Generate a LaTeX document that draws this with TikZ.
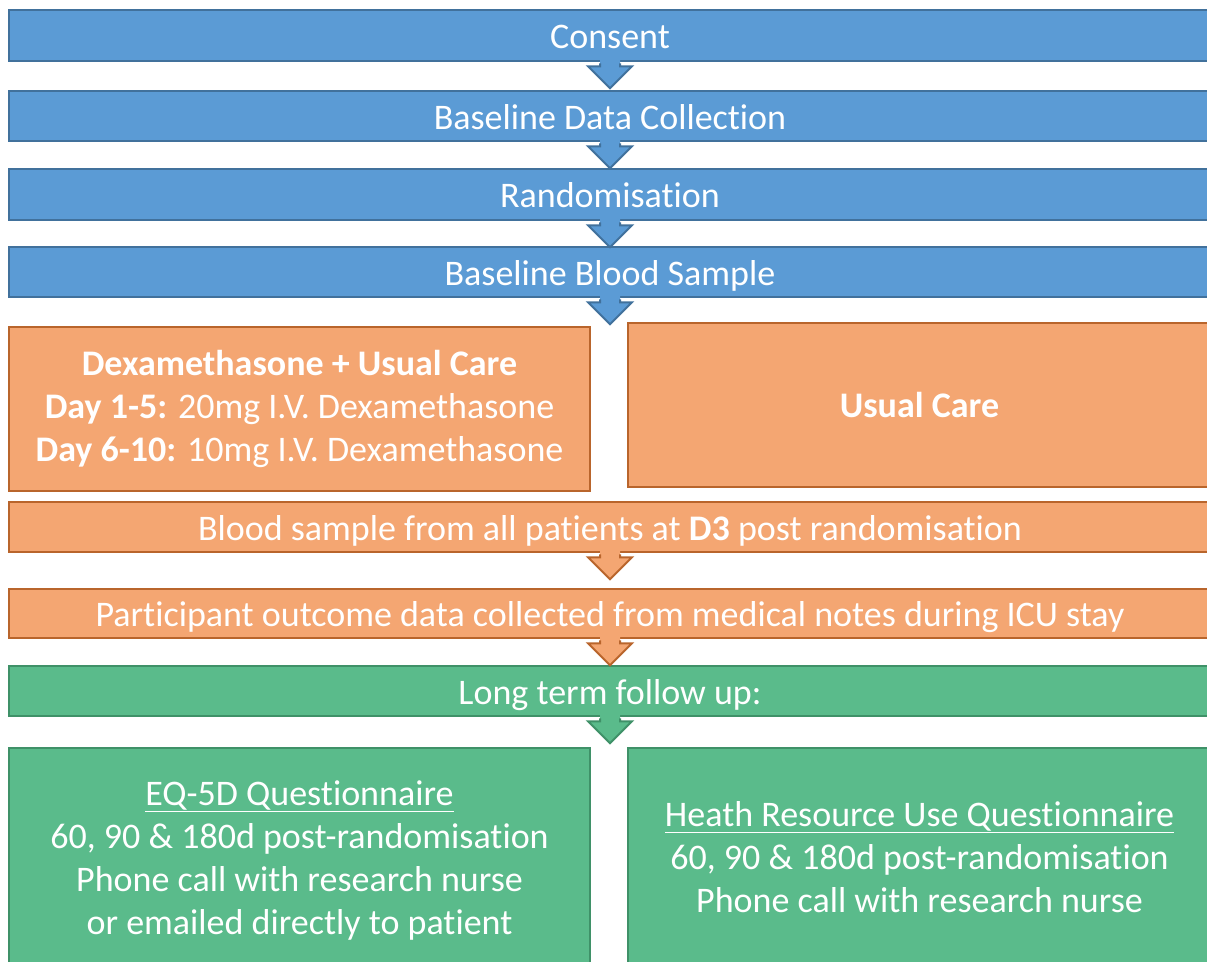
\documentclass[tikz,border=0pt]{standalone}
\usepackage{fontspec}
\setmainfont[Ligatures=NoCommon]{Carlito}
\usetikzlibrary{calc}
\definecolor{boxblue}{HTML}{5B9BD5}
\definecolor{lineblue}{HTML}{41719C}
\definecolor{boxorange}{HTML}{F4A672}
\definecolor{lineorange}{HTML}{B9652C}
\definecolor{boxgreen}{HTML}{5ABB8B}
\definecolor{linegreen}{HTML}{3F9168}
\tikzset{
    every node/.style={rectangle, line width=2.5pt, text=white, align=center,
    	font=\fontsize{36}{43}\selectfont}
}
\tikzset{
    wide/.style={minimum width=1202, minimum height=50,
        text height=26pt, text depth=0pt},
    half/.style={minimum width=581},
    blue/.style={fill=boxblue, draw=lineblue},
    orange/.style={fill=boxorange, draw=lineorange},
    green/.style={fill=boxgreen, draw=linegreen}
}
% block arrow below a box: #1 = box, #2 = fill, #3 = border
\newcommand{\blockarrow}[3]{%
  \fill[#2] ($(#1.south)+(-10,-6)$) -- ++(0,10) -- ++(-12,0)
    -- ($(#1.south)+(0,26)$) -- ($(#1.south)+(22,4)$) -- ++(-12,0)
    -- ++(0,-10) -- cycle;
  \draw[#3, line width=2pt, line join=miter] ($(#1.south)+(-10,1)$)
    -- ++(0,3) -- ++(-12,0) -- ($(#1.south)+(0,26)$)
    -- ($(#1.south)+(22,4)$) -- ++(-12,0) -- ++(0,-3);
}

\begin{document}
\begin{tikzpicture}[x=1pt, y=-1pt]
  \useasboundingbox (0,0) rectangle (1207,961);
  \clip (0,0) rectangle (1207,961);

  \node (consent) [wide, blue, minimum height=51] at (610,35.5) {Consent};
  \node (base) [wide, blue] at (610,116) {Baseline Data Collection};
  \node (rand) [wide, blue, minimum height=51] at (610,194.5) {Randomisation};
  \node (bsample) [wide, blue] at (610,272) {Baseline Blood Sample};

  \node (dexa) [half, orange, minimum height=164] at (299.5,409)
    {\textbf{Dexamethasone + Usual Care}\\
     \textbf{Day 1-5:} 20mg I.V. Dexamethasone\\
     \textbf{Day 6-10:} 10mg I.V. Dexamethasone};
  \node (usual) [half, orange, minimum width=583, minimum height=164]
    at (919.5,405) {\textbf{Usual Care}};

  \node (dthree) [wide, orange] at (610,527)
    {Blood sample from all patients at \textbf{D3} post randomisation};
  \node (notes) [wide, orange, minimum height=49] at (610,613.5)
    {Participant outcome data collected from medical notes during ICU stay};

  \node (follow) [wide, green] at (610,691) {Long term follow up:};

  \node (eqfive) [half, green, minimum height=225] at (299.5,860.5)
    {\underline{EQ-5D Questionnaire}\\
     60, 90 \& 180d post-randomisation\\
     Phone call with research nurse\\
     or emailed directly to patient};
  \node (hrq) [half, green, minimum width=583, minimum height=218]
    at (919.5,857)
    {\underline{Heath Resource Use Questionnaire}\\
     60, 90 \& 180d post-randomisation\\
     Phone call with research nurse};

  \blockarrow{consent}{boxblue}{lineblue}
  \blockarrow{base}{boxblue}{lineblue}
  \blockarrow{rand}{boxblue}{lineblue}
  \blockarrow{bsample}{boxblue}{lineblue}
  \blockarrow{dthree}{boxorange}{lineorange}
  \blockarrow{notes}{boxorange}{lineorange}
  \blockarrow{follow}{boxgreen}{linegreen}
\end{tikzpicture}
\end{document}
